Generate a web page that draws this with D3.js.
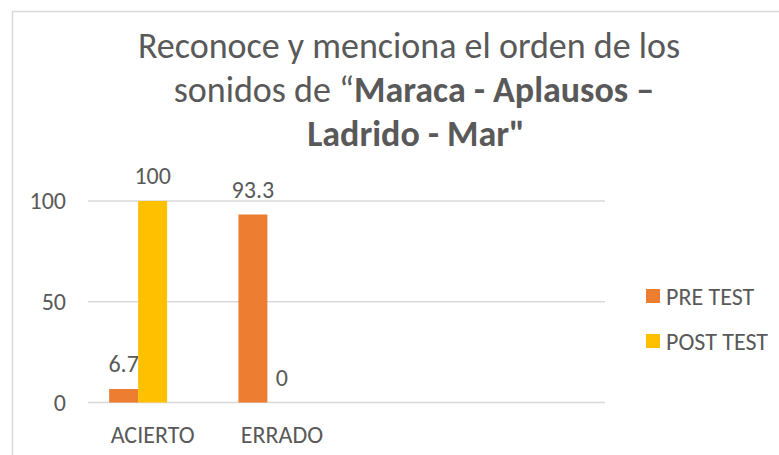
<!DOCTYPE html>
<html>
<head>
<meta charset="utf-8">
<script src="https://cdn.jsdelivr.net/npm/d3@7"></script>
<style>
	body{margin:0;background:#fff;}
	svg{display:block;}
</style>
</head>
<body>
<div id="chart"></div>
<script>
// datos
var categories=['ACIERTO','ERRADO','',''];
var series=['PRE TEST','POST TEST'];
var seriesSlots=['PRE TEST','POST TEST','(vacio)'];	//la tercera serie no tiene datos
var preTest=[6.7,93.3,null,null];
var postTest=[100,0,null,null];
var yTicks=[0,50,100];
var colors=['#ED7D31','#FFC000'];

var W=779,H=455,
	font='Carlito, Calibri, Lato, sans-serif',
	textColor='#595959',
	gridColor='#d9d9d9';

var svg=d3.select('#chart').append('svg').attr('width',W).attr('height',H)
	.style('font-family',font);

// marco del grafico
svg.append('rect').attr('x',12.5).attr('y',11.5).attr('width',W).attr('height',H)
	.attr('fill','#fff').attr('stroke',gridColor).attr('stroke-width',1.5);

// titulo
var gTitle=svg.append('g').attr('fill',textColor).attr('font-size',36).attr('text-anchor','middle');
gTitle.append('text').attr('x',409).attr('y',58).text('Reconoce y menciona el orden de los');
var t2=gTitle.append('text').attr('x',414).attr('y',102);
t2.append('tspan').text('sonidos de \u201C');
t2.append('tspan').attr('font-weight','bold').text('Maraca - Aplausos \u2013');
gTitle.append('text').attr('x',416).attr('y',146).attr('font-weight','bold').text('Ladrido - Mar"');

// escalas
var x0=d3.scaleBand().domain(d3.range(categories.length)).range([88,605]).padding(0);
var x1=d3.scaleBand().domain(seriesSlots).range([0,x0.bandwidth()]).paddingInner(0).paddingOuter(0.73);
var y=d3.scaleLinear().domain([0,100]).range([402.5,201]);

// lineas de division
svg.append('g').selectAll('line').data(yTicks).enter().append('line')
	.attr('x1',88).attr('x2',605)
	.attr('y1',function(d){return y(d);}).attr('y2',function(d){return y(d);})
	.attr('stroke',gridColor).attr('stroke-width',1.5);

// eje y
var yAxis=svg.append('g').attr('transform','translate(66,0)')
	.call(d3.axisLeft(y).tickValues(yTicks).tickSize(0).tickPadding(0));
yAxis.select('.domain').remove();
yAxis.selectAll('text').attr('fill',textColor).attr('font-size',24).attr('font-family',font);

// eje x
var xAxis=svg.append('g').attr('transform','translate(0,'+y(0)+')')
	.call(d3.axisBottom(x0).tickFormat(function(i){return categories[i];}).tickSize(0).tickPadding(23));
xAxis.select('.domain').remove();
xAxis.selectAll('text').attr('fill',textColor).attr('font-size',24).attr('font-family',font);

// barras
var data=[preTest,postTest];
var gBars=svg.append('g');
series.forEach(function(s,si){
	var vals=data[si].map(function(v,i){return {i:i,v:v};}).filter(function(d){return d.v!=null;});
	gBars.selectAll('rect.s'+si).data(vals).enter().append('rect')
		.attr('class','s'+si)
		.attr('x',function(d){return x0(d.i)+x1(s);})
		.attr('y',function(d){return y(d.v);})
		.attr('width',x1.bandwidth())
		.attr('height',function(d){return y(0)-y(d.v);})
		.attr('fill',colors[si]);
	gBars.selectAll('text.s'+si).data(vals).enter().append('text')
		.attr('class','s'+si)
		.attr('x',function(d){return x0(d.i)+x1(s)+x1.bandwidth()/2;})
		.attr('y',function(d){return y(d.v)-17;})
		.attr('text-anchor','middle').attr('font-size',24).attr('fill',textColor)
		.text(function(d){return d.v;});
});

// leyenda
var gLeg=svg.append('g').attr('transform','translate(646,289)');
series.forEach(function(s,i){
	gLeg.append('rect').attr('x',0).attr('y',i*45).attr('width',14).attr('height',14).attr('fill',colors[i]);
	gLeg.append('text').attr('x',20).attr('y',i*45+15.5).attr('font-size',24).attr('fill',textColor).text(s);
});
</script>
</body>
</html>
